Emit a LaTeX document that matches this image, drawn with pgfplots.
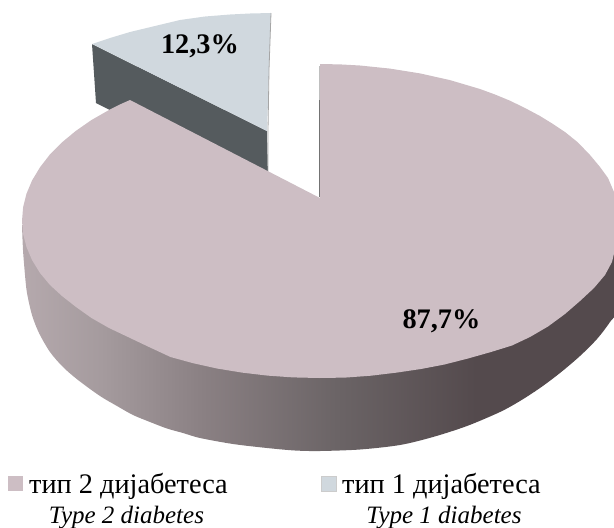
\documentclass[border=0pt]{standalone}
\usepackage{fontspec}
\setmainfont{Liberation Serif}
\usepackage{pgfplots}
\pgfplotsset{compat=1.18}
\definecolor{pinktop}{HTML}{CDBEC4}
\definecolor{bluetop}{HTML}{D0D8DE}
\definecolor{bluewall}{HTML}{555B5E}
\definecolor{wa}{HTML}{B5A9AD}
\definecolor{wb}{HTML}{A59B9E}
\definecolor{wc}{HTML}{8A8083}
\definecolor{wd}{HTML}{6B6466}
\definecolor{we}{HTML}{544A4D}
\pgfdeclarehorizontalshading{sidewall}{100bp}{color(0bp)=(wa); color(25bp)=(wa); color(31.5bp)=(wb); color(40bp)=(wc); color(51bp)=(wd); color(62.5bp)=(we); color(75bp)=(we); color(100bp)=(we)}
\begin{document}
\begin{tikzpicture}
\path[use as bounding box] (0,0) rectangle (614pt,528pt);
\begin{axis}[
  scale only axis, width=614pt, height=528pt,
  xmin=0, xmax=614, ymin=0, ymax=528, y dir=reverse,
  hide axis, clip=true]
% side wall of the large slice
\addplot[draw=none, shade, shading=sidewall, smooth, tension=0.5] coordinates {
 (22,225)(23,250)(25,275)(27,293)(32,315)(39,333)(50,352)(63,367)(78,380)(100,396)(117,406)(133,415)(150,422)(167,428.5)(183,433)(200,438)(233,444)(267,448)(295,450.5)(320,451)(360,449.5)(400,445)(433,437)(467,426)(500,412)(520,401)(540,388)(560,373)(580,356)(597,339)(610,322)(625,298)(625,225)
} -- cycle;
% wall of the small slice
\addplot[draw=none, fill=bluewall] coordinates {
 (92,44)(267,131)(268,178)(150,130)(96,103)
} -- cycle;
% top of the small slice
\addplot[draw=none, fill=bluetop] coordinates {
 (92,44)(110,38)(130,32)(155,26)(180,20)(205,16.5)(230,14.5)(250,13.5)(271,13)(269,70)(267,131)
} -- cycle;
\addplot[draw=black!35, line width=0.8pt] coordinates {(271,13)(269,70)(268,131)(268,172)};
% top of the large slice
\addplot[draw=none, fill=pinktop] coordinates {
 (320,64)(340,64.4)(360,65.5)(390,68.6)(420,73.4)(450,80.1)(480,89)(495,94.5)(510,100.7)(525,108)(540,116)(553,124)(565,132)(578,142.5)(590,155)(600,167)(608,178)(614,192)(617,205)(618,215)(618,232)(616,245)(612,262)(605,275)(594,288)(580,301)(565,314)(548,326.5)(530,337)(512,345.5)(491,352)(468,358.5)(444.5,364.5)(421,369)(396.7,372.6)(371,375.7)(345,377.6)(319,378)(293,377.4)(267.4,375.6)(242,372.6)(217,368.5)(193.5,363.3)(170.5,357)(149,347)(128,337)(109,328)(91.5,318)(76,307)(62,296)(50,285)(40,273)(32,260)(26.5,247)(23.1,234)(22,221)(23.1,207.3)(26.5,193.7)(32.1,180.4)(40,167.3)(49.8,154.6)(61.8,142.5)(75.7,131)(91.5,120)(109,110)(120.3,104.3)(130,100)(320,198)
} -- cycle;
\addplot[draw=black!55, line width=0.7pt] coordinates {(319.7,197)(319.7,100)};
\addplot[draw=black!25, line width=0.5pt] coordinates {(319.7,100)(319.7,66)};
% legend swatches
\addplot[draw=none, fill=pinktop] coordinates {(8,476)(23,476)(23,491)(8,491)} -- cycle;
\addplot[draw=black!20, line width=0.4pt, fill=bluetop] coordinates {(321,476)(336,476)(336,491)(321,491)} -- cycle;
% texts
\node[font=\fontsize{28.3}{30}\selectfont\bfseries, anchor=base] at (axis cs:200,53) {12,3\%};
\node[font=\fontsize{28.3}{30}\selectfont\bfseries, anchor=base] at (axis cs:441.5,328) {87,7\%};
\node[font=\fontsize{28.3}{30}\selectfont, anchor=base west, inner sep=0pt] at (axis cs:29,493) {тип 2 дијабетеса};
\node[font=\fontsize{28.3}{30}\selectfont, anchor=base west, inner sep=0pt] at (axis cs:342,493) {тип 1 дијабетеса};
\node[font=\fontsize{25}{28}\selectfont\itshape, anchor=base] at (axis cs:126.5,523) {Type 2 diabetes};
\node[font=\fontsize{25}{28}\selectfont\itshape, anchor=base] at (axis cs:444,523) {Type 1 diabetes};
\end{axis}
\end{tikzpicture}
\end{document}
